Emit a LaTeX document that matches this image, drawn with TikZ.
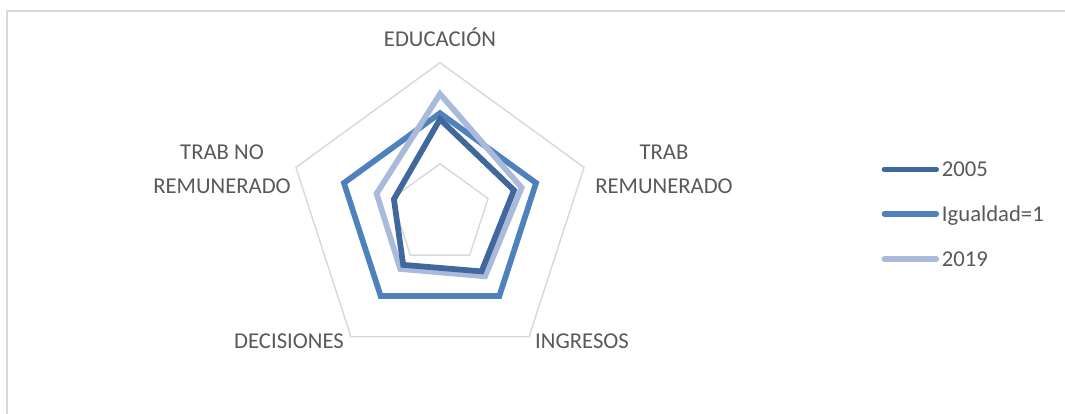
\documentclass[tikz,border=0pt]{standalone}
\usepackage{fontspec}
\setmainfont{Carlito}
\usetikzlibrary{positioning}
\definecolor{gridgray}{RGB}{217,217,217}
\definecolor{labelgray}{RGB}{89,89,89}
\definecolor{serdark}{RGB}{64,104,156}
\definecolor{sermid}{RGB}{79,129,189}
\definecolor{serlight}{RGB}{170,186,218}

\begin{document}
\begin{tikzpicture}[x=0.75pt, y=0.75pt,
  gridline/.style={gridgray, line width=1.1pt},
  series/.style={line width=4.3pt},
  axislabel/.style={font=\fontsize{17}{25.5}\selectfont, text=labelgray, inner sep=0pt, align=center},
  legline/.style={line width=3.8pt, line cap=round}]
\useasboundingbox (0,0) rectangle (1065,414);
% chart frame (only top and left edges show)
\draw[gridline] (7,0) -- (7,403) -- (1065,403);

% radar centre, one unit = 101px
\coordinate (c) at (440,199.8);
\def\ru{101}
\begin{scope}[shift={(c)}]
% grid pentagons
\foreach \lv in {0.5,1,1.5}
  \draw[gridline] (90:{\lv*\ru}) -- (18:{\lv*\ru}) -- (-54:{\lv*\ru})
    -- (-126:{\lv*\ru}) -- (162:{\lv*\ru}) -- cycle;

% Igualdad=1
\draw[series, sermid] (90:\ru) -- (18:\ru) -- (-54:\ru) -- (-126:\ru) -- (162:\ru) -- cycle;
% 2019
\draw[series, serlight] (90:{1.19*\ru}) -- (18:{0.85*\ru}) -- (-54:{0.76*\ru})
  -- (-126:{0.67*\ru}) -- (162:{0.66*\ru}) -- cycle;
% 2005
\draw[series, serdark] (90:{0.94*\ru}) -- (18:{0.77*\ru}) -- (-54:{0.70*\ru})
  -- (-126:{0.62*\ru}) -- (162:{0.48*\ru}) -- cycle;
\end{scope}

% axis labels
\node[axislabel, anchor=base] (edu) at (440,367.3) {EDUCACIÓN};
\node[axislabel] (trab) at (664,245) {TRAB\\REMUNERADO};
\node[axislabel] (trabno) at (222,245) {TRAB NO\\REMUNERADO};
\node[axislabel, anchor=base] (ingr) at (582,65) {INGRESOS};
\node[axislabel, anchor=base] (decis) at (289,65) {DECISIONES};

% legend
\coordinate (ka) at (884.2,244.7); \coordinate (kb) at (936.5,244.7);
\draw[legline, serdark] (ka) -- (kb);
\node[axislabel, anchor=base west] (k2005) at (941.7,237.3) {2005};
\coordinate (ma) at (884.2,200); \coordinate (mb) at (936.5,200);
\draw[legline, sermid] (ma) -- (mb);
\node[axislabel, anchor=base west] (kigual) at (941.7,192.5) {Igualdad=1};
\coordinate (na) at (884.2,155); \coordinate (nb) at (936.5,155);
\draw[legline, serlight] (na) -- (nb);
\node[axislabel, anchor=base west] (k2019) at (941.7,147.5) {2019};
\end{tikzpicture}
\end{document}
